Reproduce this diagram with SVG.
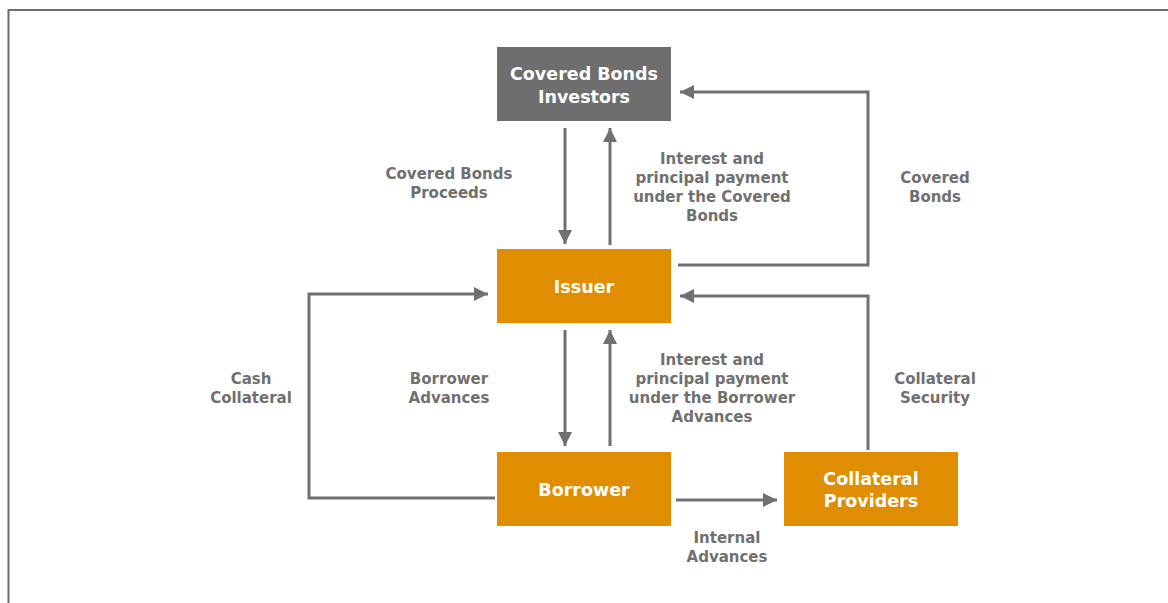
<svg xmlns="http://www.w3.org/2000/svg" width="1168" height="603" viewBox="0 0 1168 603">
<defs>
<style>
.node-gray{fill:#6e6e6e}
.node-orange{fill:#e08e00}
.ntxt{font-family:"DejaVu Sans",Verdana,sans-serif;font-weight:bold;font-size:17.5px;fill:#ffffff;text-anchor:middle}
.ltxt{font-family:"DejaVu Sans",Verdana,sans-serif;font-weight:bold;font-size:15px;fill:#707070;text-anchor:middle}
.conn{fill:none;stroke:#707070;stroke-width:3;marker-end:url(#ah)}
</style>
<marker id="ah" viewBox="0 0 10 10" refX="10" refY="5" markerUnits="userSpaceOnUse" markerWidth="18" markerHeight="14" orient="auto">
<path d="M0,0 L10,5 L0,10 Z" fill="#707070"/>
</marker>
</defs>
<rect x="0" y="0" width="1168" height="603" fill="#ffffff"/>
<rect x="8.5" y="10" width="1200" height="700" fill="none" stroke="#6e6e6e" stroke-width="2"/>

<g id="connectors">
<path class="conn" d="M565,128 V244"/>
<path class="conn" d="M610,245 V128"/>
<path class="conn" d="M678,265 H868 V92 H680"/>
<path class="conn" d="M868,450 V296 H680"/>
<path class="conn" d="M565,330 V446"/>
<path class="conn" d="M610,446 V330"/>
<path class="conn" d="M495,498 H309 V294 H488"/>
<path class="conn" d="M676,500 H777"/>
</g>

<g id="investors">
<rect class="node-gray" x="497" y="47" width="174" height="74"/>
<text class="ntxt" x="584" y="79.5">Covered Bonds</text>
<text class="ntxt" x="584" y="102.5">Investors</text>
</g>
<g id="issuer">
<rect class="node-orange" x="497" y="249" width="174" height="74"/>
<text class="ntxt" x="584" y="292.5">Issuer</text>
</g>
<g id="borrower">
<rect class="node-orange" x="497" y="452" width="174" height="74"/>
<text class="ntxt" x="584" y="495.5">Borrower</text>
</g>
<g id="collateral-providers">
<rect class="node-orange" x="784" y="452" width="174" height="74"/>
<text class="ntxt" x="871" y="484.5">Collateral</text>
<text class="ntxt" x="871" y="506.5">Providers</text>
</g>

<g id="labels">
<text class="ltxt" x="449" y="178.5">Covered Bonds</text>
<text class="ltxt" x="449" y="197.5">Proceeds</text>
<text class="ltxt" x="712" y="163.5">Interest and</text>
<text class="ltxt" x="712" y="182.5">principal payment</text>
<text class="ltxt" x="712" y="201.5">under the Covered</text>
<text class="ltxt" x="712" y="220.5">Bonds</text>
<text class="ltxt" x="935" y="182.5">Covered</text>
<text class="ltxt" x="935" y="201.5">Bonds</text>
<text class="ltxt" x="251" y="383.5">Cash</text>
<text class="ltxt" x="251" y="402.5">Collateral</text>
<text class="ltxt" x="449" y="383.5">Borrower</text>
<text class="ltxt" x="449" y="402.5">Advances</text>
<text class="ltxt" x="712" y="364.5">Interest and</text>
<text class="ltxt" x="712" y="383.5">principal payment</text>
<text class="ltxt" x="712" y="402.5">under the Borrower</text>
<text class="ltxt" x="712" y="421.5">Advances</text>
<text class="ltxt" x="935" y="383.5">Collateral</text>
<text class="ltxt" x="935" y="402.5">Security</text>
<text class="ltxt" x="727" y="542.5">Internal</text>
<text class="ltxt" x="727" y="561.5">Advances</text>
</g>
</svg>
